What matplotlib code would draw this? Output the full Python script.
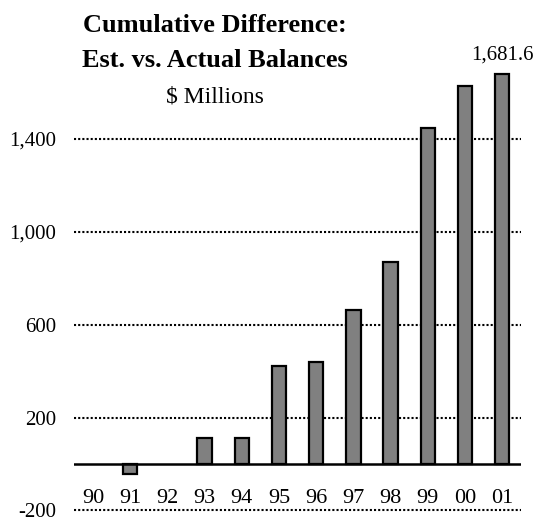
import numpy as np
import matplotlib.pyplot as plt

years = ['90', '91', '92', '93', '94', '95', '96', '97', '98', '99', '00', '01']
diff = [0, -45, 0, 110, 110, 420, 440, 662, 870, 1448, 1630, 1681.6]
yticks = [-200, 200, 600, 1000, 1400]

plt.rcParams['font.family'] = ['Liberation Serif', 'DejaVu Serif']

fig = plt.figure(figsize=(5.36, 5.21), dpi=100)
ax = fig.add_axes([0.1388, 0.0159, 0.8328, 0.940])

x = np.arange(len(years))

# dotted gridlines, solid baseline
for t in yticks:
    ax.axhline(t, color='black', lw=1.5, ls=(0, (1, 1)), zorder=1)
# zero-height bars get no outline so they vanish into the baseline
edge_w = [0 if v == 0 else 1.6 for v in diff]
ax.bar(x, diff, width=0.39, color='#808080', edgecolor='black', linewidth=edge_w, zorder=2)
ax.axhline(0, color='black', lw=1.8, zorder=3)

ax.set_xlim(-0.5, 11.5)
ax.set_ylim(-210, 1900)
ax.set_yticks(yticks)
ax.set_yticklabels([f'{t:,}' for t in yticks], fontsize=15)
ax.tick_params(axis='y', length=0, pad=13)
ax.set_xticks([])
for s in ax.spines.values():
    s.set_visible(False)

# year labels sit between the baseline and the -200 line
for xi, yr in zip(x, years):
    ax.text(xi, -148, yr, ha='center', va='center', fontsize=16)

ax.annotate(f'{diff[-1]:,.1f}', (x[-1], diff[-1]), xytext=(0, 10),
            textcoords='offset points', ha='center', va='baseline',
            fontsize=15, annotation_clip=False)

fig.text(0.401, 0.9386, 'Cumulative Difference:', ha='center', va='baseline',
         fontsize=19, fontweight='bold')
fig.text(0.401, 0.8714, 'Est. vs. Actual Balances', ha='center', va='baseline',
         fontsize=19, fontweight='bold')
fig.text(0.401, 0.8042, '$ Millions', ha='center', va='baseline', fontsize=17)

fig.savefig('out.png', dpi=100)
